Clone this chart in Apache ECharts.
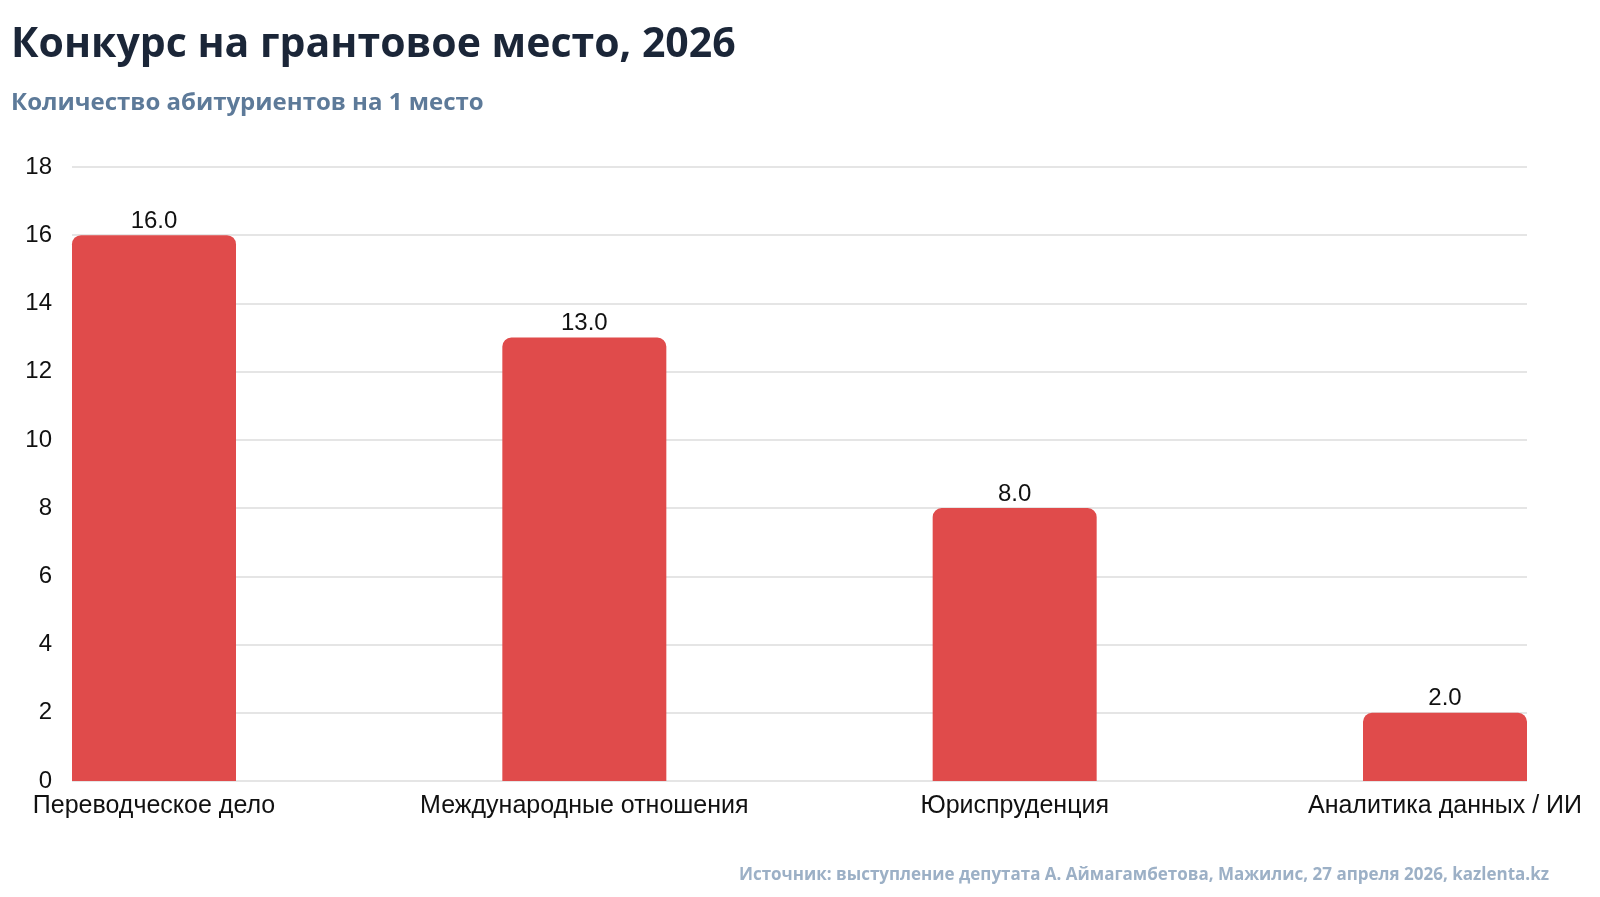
<!DOCTYPE html>
<html>
<head>
<meta charset="utf-8">
<script src="https://cdn.jsdelivr.net/npm/echarts@6/dist/echarts.min.js"></script>
<style>
html, body { margin:0; padding:0; background:#fff; }
#chart { width:1600px; height:897px; }
</style>
</head>
<body>
<div id="chart"></div>
<script>
var categories = ['Переводческое дело', 'Международные отношения', 'Юриспруденция', 'Аналитика данных / ИИ'];
var values = [16.0, 13.0, 8.0, 2.0];
var yTicks = [0, 2, 4, 6, 8, 10, 12, 14, 16, 18];

var titleFont = '"Open Sans", "Noto Sans", sans-serif';
var axisFont = '"Liberation Sans", Arial, sans-serif';

var chart = echarts.init(document.getElementById('chart'), null, {renderer: 'canvas'});

chart.setOption({
	backgroundColor: '#ffffff',
	title: [
		{
			text: 'Конкурс на грантовое место, 2026',
			left: 6, top: 20,
			textStyle: { fontFamily: titleFont, fontWeight: 'bold', fontSize: 41, color: '#1b2638' }
		},
		{
			text: 'Количество абитуриентов на 1 место',
			left: 6, top: 86,
			textStyle: { fontFamily: titleFont, fontWeight: 'bold', fontSize: 24, color: '#5d7a99' }
		},
		{
			text: 'Источник: выступление депутата А. Аймагамбетова, Мажилис, 27 апреля 2026, kazlenta.kz',
			right: 46, top: 862,
			textStyle: { fontFamily: titleFont, fontWeight: 'bold', fontSize: 17, color: '#9cb0c6' }
		}
	],
	grid: [
		// wide grid only for the horizontal lines and y labels
		{ left: 72, right: 73, top: 167, bottom: 116 },
		// bar grid, bars centred at the ends
		{ left: 154, right: 155, top: 167, bottom: 116 }
	],
	xAxis: [
		{
			gridIndex: 0, type: 'value', min: 0, max: 1, show: false
		},
		{
			gridIndex: 1, type: 'category', data: categories, boundaryGap: false,
			axisLine: { show: false }, axisTick: { show: false },
			axisLabel: { fontFamily: axisFont, fontSize: 25, color: '#111', margin: 13 }
		}
	],
	yAxis: [
		{
			gridIndex: 0, type: 'value', min: yTicks[0], max: yTicks[yTicks.length - 1], interval: 2,
			axisLine: { show: false }, axisTick: { show: false },
			axisLabel: { fontFamily: axisFont, fontSize: 24, color: '#111', margin: 20 },
			splitLine: { lineStyle: { color: '#dcdcdc', width: 1.5 } }
		},
		{
			gridIndex: 1, type: 'value', min: yTicks[0], max: yTicks[yTicks.length - 1], interval: 2,
			show: false, splitLine: { show: false }
		}
	],
	series: [
		{
			type: 'bar',
			xAxisIndex: 1, yAxisIndex: 1,
			data: values,
			barWidth: 164,
			itemStyle: { color: '#e04b4b', borderRadius: [9, 9, 0, 0] },
			label: {
				show: true, position: 'top', distance: 2,
				fontFamily: axisFont, fontSize: 24, color: '#111',
				formatter: function (p) { return p.value.toFixed(1); }
			}
		}
	]
});
</script>
</body>
</html>
